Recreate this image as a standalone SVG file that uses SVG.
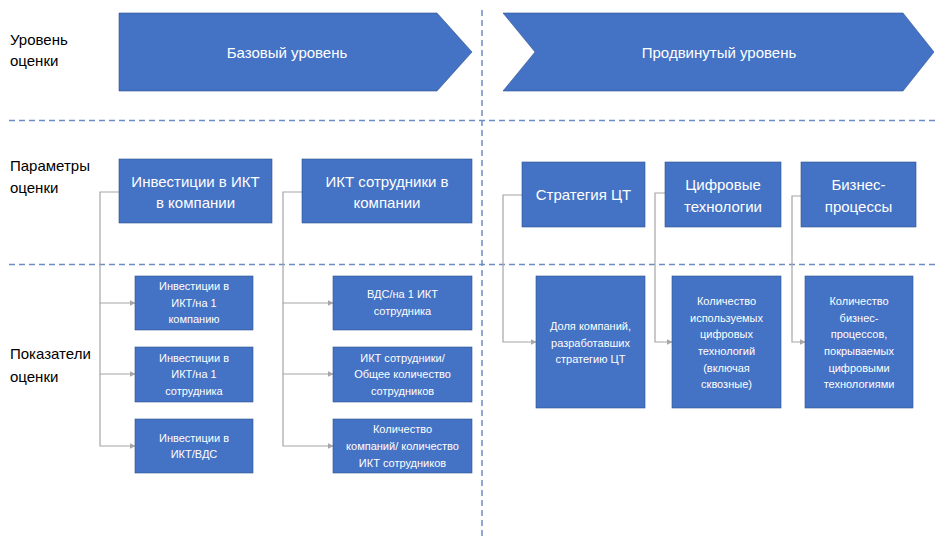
<svg xmlns="http://www.w3.org/2000/svg" width="935" height="556" viewBox="0 0 935 556">
<defs>
<style>
.shape{fill:#4472C4;stroke:#2F528F;stroke-width:0.6}
.lbl{font-family:"Liberation Sans",Arial,sans-serif;font-size:15px;fill:#000}
.t15{font-family:"Liberation Sans",Arial,sans-serif;font-size:15px;fill:#fff;text-anchor:middle}
.t11{font-family:"Liberation Sans",Arial,sans-serif;font-size:11px;fill:#fff;text-anchor:middle}
.dash{stroke:#6E8CC4;stroke-width:1.5;stroke-dasharray:6 4;fill:none}
.conn{stroke:#A6A6A6;stroke-width:1.2;fill:none}
</style>
<marker id="ah" viewBox="0 0 10 10" refX="9" refY="5" markerWidth="6" markerHeight="6" markerUnits="userSpaceOnUse" orient="auto">
<path d="M0,0 L10,5 L0,10 Z" fill="#A6A6A6"/>
</marker>
</defs>
<rect width="935" height="556" fill="#fff"/>

<g id="guides">
<line class="dash" x1="9" y1="120.5" x2="935" y2="120.5"/>
<line class="dash" x1="9" y1="264.5" x2="935" y2="264.5"/>
<line class="dash" x1="482" y1="10" x2="482" y2="537"/>
</g>

<g id="row-labels">
<text class="lbl" x="10" y="45">Уровень</text>
<text class="lbl" x="10" y="66">оценки</text>
<text class="lbl" x="10" y="171">Параметры</text>
<text class="lbl" x="10" y="193">оценки</text>
<text class="lbl" x="10" y="359">Показатели</text>
<text class="lbl" x="10" y="382">оценки</text>
</g>

<g id="connectors">
<path class="conn" d="M119,192 H100 V303 H135" marker-end="url(#ah)"/>
<path class="conn" d="M100,303 V374 H135" marker-end="url(#ah)"/>
<path class="conn" d="M100,374 V446 H135" marker-end="url(#ah)"/>
<path class="conn" d="M302,192 H283 V303 H333" marker-end="url(#ah)"/>
<path class="conn" d="M283,303 V374 H333" marker-end="url(#ah)"/>
<path class="conn" d="M283,374 V446 H333" marker-end="url(#ah)"/>
<path class="conn" d="M522,195 H503 V342 H536" marker-end="url(#ah)"/>
<path class="conn" d="M665,193 H655 V342 H672" marker-end="url(#ah)"/>
<path class="conn" d="M801,196 H792 V342 H805" marker-end="url(#ah)"/>
</g>

<g id="level-basic">
<polygon class="shape" points="119,13 437,13 472,52 437,91 119,91"/>
<text class="t15" x="287" y="58">Базовый уровень</text>
</g>
<g id="level-advanced">
<polygon class="shape" points="503,13 903,13 934,52 903,91 503,91 535,52"/>
<text class="t15" x="719" y="58">Продвинутый уровень</text>
</g>

<g id="param-invest">
<rect class="shape" x="119" y="159" width="153" height="64"/>
<text class="t15" x="195.5" y="187">Инвестиции в ИКТ</text>
<text class="t15" x="195.5" y="208">в компании</text>
</g>
<g id="param-staff">
<rect class="shape" x="302" y="159" width="170" height="64"/>
<text class="t15" x="387" y="187">ИКТ сотрудники в</text>
<text class="t15" x="387" y="208">компании</text>
</g>
<g id="param-strategy">
<rect class="shape" x="522" y="162" width="123" height="65"/>
<text class="t15" x="583.5" y="200">Стратегия ЦТ</text>
</g>
<g id="param-tech">
<rect class="shape" x="665" y="162" width="116" height="65"/>
<text class="t15" x="723" y="190">Цифровые</text>
<text class="t15" x="723" y="212">технологии</text>
</g>
<g id="param-process">
<rect class="shape" x="801" y="162" width="115" height="65"/>
<text class="t15" x="858.5" y="190">Бизнес-</text>
<text class="t15" x="858.5" y="212">процессы</text>
</g>

<g id="ind-inv-company">
<rect class="shape" x="135" y="276" width="118" height="54"/>
<text class="t11" x="194" y="290">Инвестиции в</text>
<text class="t11" x="194" y="307">ИКТ/на 1</text>
<text class="t11" x="194" y="323">компанию</text>
</g>
<g id="ind-inv-employee">
<rect class="shape" x="135" y="347" width="118" height="55"/>
<text class="t11" x="194" y="362">Инвестиции в</text>
<text class="t11" x="194" y="378">ИКТ/на 1</text>
<text class="t11" x="194" y="395">сотрудника</text>
</g>
<g id="ind-inv-gva">
<rect class="shape" x="135" y="419" width="118" height="54"/>
<text class="t11" x="194" y="442">Инвестиции в</text>
<text class="t11" x="194" y="458">ИКТ/ВДС</text>
</g>

<g id="ind-gva-staff">
<rect class="shape" x="333" y="276" width="139" height="54"/>
<text class="t11" x="402.5" y="298">ВДС/на 1 ИКТ</text>
<text class="t11" x="402.5" y="315">сотрудника</text>
</g>
<g id="ind-staff-share">
<rect class="shape" x="333" y="347" width="139" height="55"/>
<text class="t11" x="402.5" y="362">ИКТ сотрудники/</text>
<text class="t11" x="402.5" y="378">Общее количество</text>
<text class="t11" x="402.5" y="395">сотрудников</text>
</g>
<g id="ind-companies-staff">
<rect class="shape" x="333" y="419" width="139" height="54"/>
<text class="t11" x="402.5" y="433">Количество</text>
<text class="t11" x="402.5" y="450">компаний/ количество</text>
<text class="t11" x="402.5" y="467">ИКТ сотрудников</text>
</g>

<g id="ind-strategy">
<rect class="shape" x="536" y="276" width="109" height="132"/>
<text class="t11" x="590.5" y="330">Доля компаний,</text>
<text class="t11" x="590.5" y="347">разработавших</text>
<text class="t11" x="590.5" y="363">стратегию ЦТ</text>
</g>
<g id="ind-tech">
<rect class="shape" x="672" y="276" width="109" height="132"/>
<text class="t11" x="726.5" y="305">Количество</text>
<text class="t11" x="726.5" y="322">используемых</text>
<text class="t11" x="726.5" y="338">цифровых</text>
<text class="t11" x="726.5" y="355">технологий</text>
<text class="t11" x="726.5" y="372">(включая</text>
<text class="t11" x="726.5" y="388">сквозные)</text>
</g>
<g id="ind-process">
<rect class="shape" x="805" y="276" width="108" height="132"/>
<text class="t11" x="859" y="305">Количество</text>
<text class="t11" x="859" y="322">бизнес-</text>
<text class="t11" x="859" y="338">процессов,</text>
<text class="t11" x="859" y="355">покрываемых</text>
<text class="t11" x="859" y="372">цифровыми</text>
<text class="t11" x="859" y="388">технологиями</text>
</g>
</svg>
